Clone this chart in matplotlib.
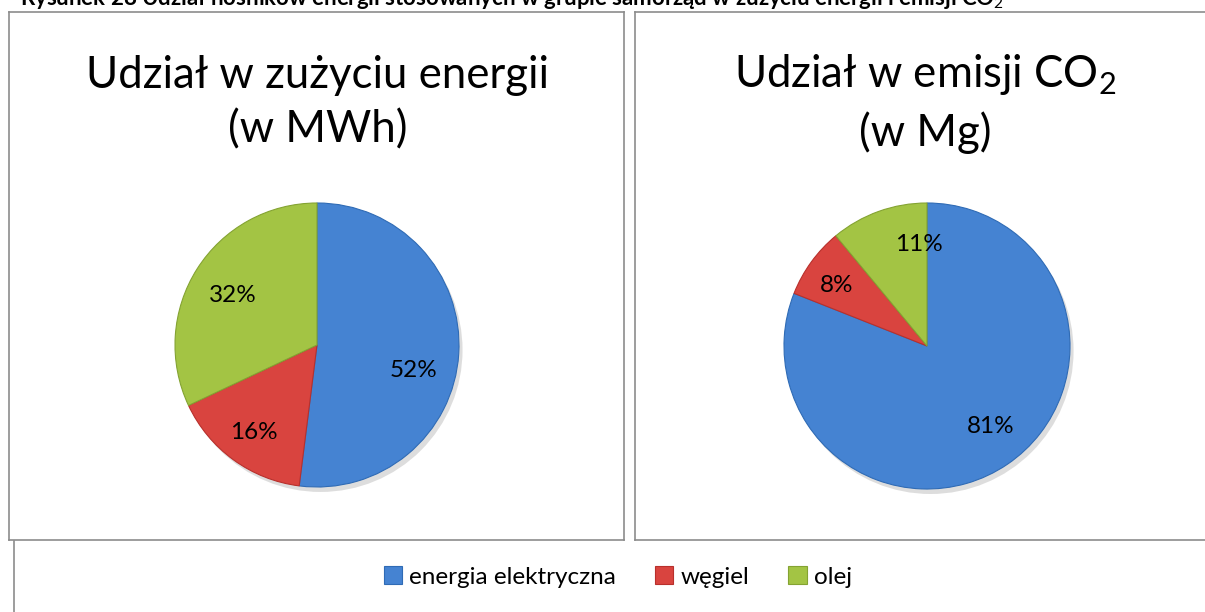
import numpy as np
import matplotlib
matplotlib.use('Agg')
import matplotlib.pyplot as plt
from matplotlib.lines import Line2D

plt.rcParams['font.family'] = ['Lato', 'DejaVu Sans']
plt.rcParams['mathtext.fontset'] = 'custom'
plt.rcParams['mathtext.rm'] = 'Lato'
plt.rcParams['mathtext.bf'] = 'Lato:bold'

# dane
nosniki = ['energia elektryczna', 'węgiel', 'olej']
udzial_energia = [52, 16, 32]
udzial_co2 = [81, 8, 11]
kolory = ['#4583d2', '#d9443f', '#a3c444']
krawedzie = ['#2f6bb5', '#b8302c', '#84a332']

W, H = 1205, 612
fig = plt.figure(figsize=(W / 100, H / 100), dpi=100)
fig.patch.set_facecolor('white')


def px_line(x0, y0, x1, y1, color='#8c8c8c', lw=1.2):
    fig.add_artist(Line2D([x0 / W, x1 / W], [1 - y0 / H, 1 - y1 / H],
                          transform=fig.transFigure, color=color, lw=lw))


# ramki paneli
for (x0, y0, x1, y1) in [(9, 12, 624, 540), (635, 12, 1210, 540)]:
    px_line(x0, y0, x1, y0)
    px_line(x0, y0, x0, y1)
    px_line(x1, y0, x1, y1)
    px_line(x0, y1, x1, y1)
px_line(14, 541, 14, 612)

# podpis (uciety u gory)
fig.text(20 / W, 1 - 5 / H,
         'Rysunek 28 Udział nośników energii stosowanych w grupie samorząd '
         'w zużyciu energii i emisji CO$_2$',
         fontsize=16, fontweight='bold', ha='left', va='baseline')


def pie_panel(cx, cy, r, wartosci, tytul, tx, etykiety_poz):
    m = 1.12
    ax = fig.add_axes([(cx - r * m) / W, 1 - (cy + r * m) / H,
                       2 * r * m / W, 2 * r * m / H])
    # cien
    ax.add_patch(plt.Circle((0.025, -0.035), 1.0, color='#b5b5b5', alpha=0.45,
                            zorder=0, lw=0))
    wedges, texts = ax.pie(wartosci, colors=kolory, startangle=90,
                           counterclock=False, radius=1.0,
                           wedgeprops=dict(linewidth=0.8))
    for w, ec in zip(wedges, krawedzie):
        w.set_edgecolor(ec)
        w.set_zorder(2)
    total = sum(wartosci)
    kat = 90.0
    for v, (lr, dk) in zip(wartosci, etykiety_poz):
        srodek = kat - 360.0 * v / total / 2 + dk
        kat -= 360.0 * v / total
        a = np.deg2rad(srodek)
        ax.text(lr * np.cos(a), lr * np.sin(a), f'{v}%', ha='center',
                va='center', fontsize=17.5, color='black', zorder=3)
    ax.set_xlim(-m, m)
    ax.set_ylim(-m, m)
    ax.set_aspect('equal')
    ax.axis('off')
    fig.text(tx / W, 1 - 103 / H, tytul, ha='center', va='center',
             fontsize=31.5, linespacing=1.4)
    return wedges


wedges = pie_panel(317, 345, 142, udzial_energia,
                   'Udział w zużyciu energii\n(w MWh)', 318,
                   [(0.70, -11), (0.76, 0), (0.69, 2)])
pie_panel(927, 346, 143, udzial_co2,
          'Udział w emisji CO$_2$\n(w Mg)', 925,
          [(0.72, 4), (0.76, 2), (0.71, -15)])

fig.legend(wedges, nosniki, loc='center', bbox_to_anchor=(618 / W, 1 - 577 / H),
           ncol=3, frameon=False, fontsize=17.5, handlelength=0.75,
           handleheight=0.75, handletextpad=0.3, columnspacing=1.6)

fig.savefig('out.png', dpi=100)
